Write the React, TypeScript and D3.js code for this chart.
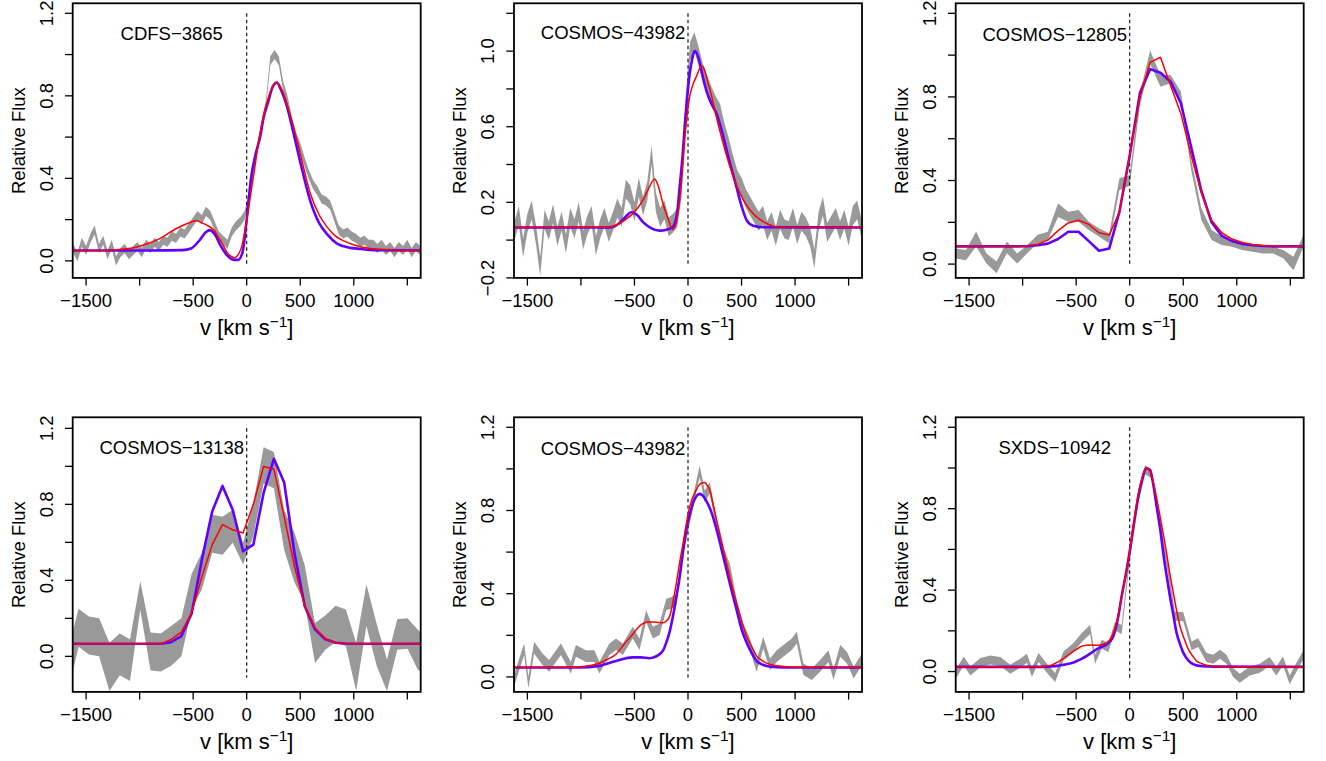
import React, { useEffect } from "react";
import * as d3 from "d3";

// ---------------- shared axis data ----------------
const X_DOMAIN: [number, number] = [-1625, 1625];
const X_TICKS = [-1500, -1000, -500, 0, 500, 1000, 1500];
const X_LABELED = [-1500, -500, 0, 500, 1000];
const Y_TICKS_A = [0, 0.2, 0.4, 0.6, 0.8, 1.0, 1.2];
const Y_LABELED_A = [0, 0.4, 0.8, 1.2];
const Y_TICKS_B = [-0.2, 0, 0.2, 0.4, 0.6, 0.8, 1.0, 1.2];
const Y_LABELED_B = [-0.2, 0.2, 0.6, 1.0];
const REF_TOP = 1.2;
const NAME_POS: [number, number] = [-700, 1.1];

// ---------------- Panel 1 : CDFS-3865 ----------------
const p1V = d3.range(-1620, 1621, 40);
const p1Flux = [0.06,0.02,0.09,0.05,0.11,0.15,0.06,0.10,0.03,0.08,
  0.00,0.04,0.06,0.03,0.05,0.07,0.04,0.08,0.06,0.09,
  0.07,0.10,0.09,0.12,0.11,0.14,0.13,0.16,0.19,0.22,
  0.20,0.24,0.22,0.17,0.12,0.10,0.08,0.14,0.17,0.19,
  0.22,0.30,0.43,0.55,0.66,0.76,0.97,1.00,0.97,0.85,
  0.78,0.68,0.60,0.55,0.48,0.42,0.37,0.34,0.30,0.29,
  0.27,0.21,0.15,0.13,0.14,0.12,0.11,0.09,0.10,0.08,
  0.08,0.06,0.08,0.05,0.07,0.04,0.07,0.05,0.08,0.04,
  0.07,0.05];
const p1Err = 0.022;
const p1BlueV = [-1625,-900,-600,-520,-440,-380,-344,-300,-240,-180,-120,-80,-40,0,40,80,125,160,200,240,281,320,370,437,500,594,680,750,844,950,1062,1200,1625];
const p1Blue = [0.05,0.05,0.052,0.06,0.10,0.14,0.149,0.13,0.07,0.025,0.005,0.005,0.04,0.20,0.40,0.51,0.60,0.70,0.77,0.84,0.864,0.83,0.76,0.62,0.48,0.29,0.18,0.13,0.084,0.065,0.058,0.052,0.05];
const p1RedV = [-1625,-1300,-1100,-969,-812,-656,-560,-469,-420,-344,-300,-266,-220,-187,-140,-109,-80,-47,0,60,125,190,250,281,320,370,437,500,594,680,750,830,906,1062,1200,1375,1625];
const p1Red = [0.05,0.052,0.06,0.076,0.108,0.157,0.18,0.194,0.185,0.165,0.145,0.116,0.075,0.044,0.02,0.015,0.03,0.068,0.197,0.40,0.618,0.77,0.852,0.864,0.84,0.77,0.65,0.52,0.327,0.22,0.165,0.12,0.097,0.068,0.057,0.052,0.05];

// ---------------- Panel 2 : COSMOS-43982 ----------------
const p2V = d3.range(-1620, 1621, 40);
const p2Flux = [0.05,0.13,-0.04,0.09,0.16,0.03,-0.14,0.11,0.05,0.14,
  0.02,0.10,-0.02,0.12,0.06,0.15,0.00,0.08,0.13,-0.03,
  0.06,0.12,0.04,0.10,0.17,0.12,0.27,0.24,0.15,0.28,
  0.18,0.26,0.45,0.20,0.12,0.16,0.07,0.09,0.12,0.28,
  0.72,1.00,1.05,0.97,0.88,0.82,0.76,0.71,0.67,0.57,
  0.49,0.40,0.32,0.28,0.22,0.18,0.14,0.10,0.13,0.05,
  0.10,0.02,0.11,0.06,0.05,0.12,0.03,0.10,0.07,0.02,
  -0.10,0.10,0.18,0.04,0.08,0.12,0.05,0.11,0.02,0.13,
  0.16,0.06];
const p2Err = 0.05;
const p2BlueV = [-1625,-760,-700,-640,-580,-531,-480,-420,-350,-266,-200,-141,-100,-78,-50,-31,0,16,40,62,85,109,140,172,220,266,310,359,400,453,500,547,609,700,1625];
const p2Blue = [0.067,0.067,0.07,0.09,0.125,0.147,0.135,0.095,0.065,0.05,0.055,0.07,0.15,0.28,0.45,0.6,0.80,0.88,0.96,1.0,0.985,0.94,0.86,0.79,0.72,0.67,0.59,0.48,0.39,0.28,0.18,0.106,0.076,0.068,0.067];
const p2RedV = [-1625,-760,-703,-641,-580,-516,-470,-422,-370,-312,-280,-234,-190,-141,-110,-78,-50,-31,0,16,50,78,110,131,160,188,230,266,320,391,440,484,540,609,670,734,828,900,1625];
const p2Red = [0.067,0.068,0.072,0.088,0.11,0.14,0.17,0.21,0.27,0.323,0.29,0.194,0.12,0.056,0.09,0.21,0.38,0.53,0.70,0.76,0.83,0.865,0.91,0.923,0.89,0.83,0.74,0.65,0.53,0.39,0.31,0.25,0.19,0.14,0.11,0.088,0.07,0.067,0.067];

// ---------------- Panel 3 : COSMOS-12805 ----------------
const p3V = [-1625,-1529,-1434,-1338,-1243,-1147,-1051,-956,-860,-765,-669,-574,-478,-382,-287,-191,-96,0,96,191,287,382,478,574,669,765,860,956,1051,1147,1243,1338,1434,1529,1625];
const p3Flux = [0.051,0.043,0.12,0.027,-0.016,0.08,0.027,0.072,0.12,0.135,0.258,0.227,0.231,0.183,0.152,0.123,0.383,0.40,0.79,0.99,0.877,0.885,0.805,0.474,0.239,0.139,0.112,0.099,0.083,0.075,0.067,0.067,0.048,0.003,0.112];
const p3Err = [0.024,0.024,0.036,0.024,0.028,0.028,0.024,0.02,0.02,0.02,0.032,0.024,0.028,0.02,0.02,0.024,0.028,0.025,0.03,0.032,0.028,0.02,0.02,0.024,0.028,0.024,0.02,0.016,0.016,0.016,0.016,0.016,0.02,0.032,0.028];
const p3Blue = [0.085,0.085,0.085,0.085,0.085,0.085,0.085,0.086,0.09,0.098,0.12,0.155,0.155,0.11,0.064,0.075,0.25,0.52,0.82,0.933,0.916,0.873,0.77,0.56,0.35,0.20,0.135,0.11,0.096,0.09,0.087,0.085,0.085,0.085,0.085];
const p3Red = [0.086,0.086,0.086,0.086,0.086,0.086,0.086,0.086,0.095,0.115,0.16,0.197,0.21,0.19,0.15,0.139,0.25,0.52,0.80,0.965,0.99,0.855,0.72,0.52,0.34,0.21,0.15,0.12,0.103,0.094,0.089,0.087,0.086,0.086,0.086];

// ---------------- Panel 4 : COSMOS-13138 ----------------
const p4V = [-1666,-1570,-1474,-1378,-1282,-1186,-1090,-994,-898,-802,-706,-610,-514,-418,-322,-226,-130,-34,62,158,254,350,446,542,638,734,830,926,1022,1118,1214,1310,1406,1502,1598,1694];
const p4Flux = [-0.07,0.15,0.11,0.10,-0.055,0.01,-0.02,0.32,0.025,0.02,0.055,0.10,0.34,0.45,0.645,0.635,0.685,0.54,0.72,1.005,0.98,0.665,0.52,0.38,0.07,0.125,0.17,0.15,-0.055,0.27,0.06,-0.10,0.115,0.12,0.035,0.0];
const p4Err = [0.11,0.10,0.10,0.10,0.127,0.11,0.11,0.075,0.10,0.10,0.105,0.10,0.095,0.095,0.10,0.10,0.087,0.057,0.088,0.095,0.096,0.105,0.13,0.10,0.105,0.09,0.096,0.096,0.127,0.11,0.11,0.083,0.08,0.08,0.105,0.10];
const p4Blue = [0.066,0.066,0.066,0.066,0.066,0.066,0.066,0.066,0.066,0.066,0.075,0.107,0.226,0.51,0.763,0.897,0.77,0.553,0.588,0.86,1.04,0.915,0.544,0.264,0.142,0.09,0.072,0.067,0.066,0.066,0.066,0.066,0.066,0.066,0.066,0.066];
const p4Red = [0.066,0.066,0.066,0.066,0.066,0.066,0.066,0.066,0.066,0.066,0.089,0.128,0.23,0.42,0.588,0.693,0.666,0.649,0.80,0.999,0.985,0.736,0.474,0.264,0.15,0.093,0.072,0.067,0.066,0.066,0.066,0.066,0.066,0.066,0.066,0.066];

// ---------------- Panel 5 : COSMOS-43982 ----------------
const p5V = [-1625,-1531,-1490,-1437,-1359,-1297,-1187,-1094,-1047,-953,-875,-828,-734,-672,-609,-516,-453,-391,-328,-266,-203,-156,-109,-47,16,62,109,156,203,266,328,391,453,516,578,641,703,766,828,891,969,1016,1078,1156,1234,1312,1359,1422,1484,1547,1625];
const p5Flux = [-0.019,0.133,-0.027,0.141,0.085,0.053,0.133,0.045,0.125,0.10,0.10,0.045,0.133,0.157,0.133,0.213,0.157,0.292,0.213,0.229,0.348,0.356,0.372,0.612,0.764,0.876,0.988,0.868,0.908,0.74,0.596,0.516,0.348,0.229,0.157,0.053,0.165,0.061,0.10,0.125,0.157,0.189,0.037,0.013,0.053,0.10,0.013,0.125,0.093,0.021,0.085];
const p5Err = 0.028;
const p5BlueV = [-1625,-1016,-828,-672,-516,-440,-359,-300,-266,-230,-203,-170,-141,-110,-78,-47,-16,16,47,80,109,140,172,220,266,310,359,400,453,500,547,600,641,690,734,828,1000,1625];
const p5Blue = [0.045,0.045,0.053,0.077,0.094,0.094,0.09,0.098,0.109,0.13,0.165,0.22,0.29,0.38,0.48,0.60,0.71,0.78,0.836,0.87,0.88,0.87,0.845,0.79,0.71,0.62,0.516,0.43,0.324,0.23,0.165,0.11,0.077,0.06,0.053,0.047,0.045,0.045];
const p5RedV = [-1625,-1100,-984,-900,-828,-750,-672,-600,-516,-470,-422,-375,-328,-280,-234,-200,-172,-140,-109,-78,-47,16,78,120,156,180,203,230,266,310,359,400,453,500,547,600,641,690,734,800,891,1000,1625];
const p5Red = [0.045,0.046,0.05,0.056,0.066,0.085,0.109,0.155,0.205,0.235,0.256,0.264,0.264,0.262,0.26,0.27,0.29,0.36,0.45,0.55,0.64,0.82,0.90,0.93,0.935,0.92,0.90,0.84,0.756,0.66,0.548,0.46,0.356,0.27,0.197,0.14,0.10,0.08,0.066,0.056,0.05,0.046,0.045];

// ---------------- Panel 6 : SXDS-10942 ----------------
const p6V = [-1625,-1550,-1488,-1394,-1301,-1208,-1115,-1022,-960,-913,-851,-773,-696,-618,-525,-447,-370,-323,-261,-199,-137,-75,3,81,143,205,267,345,422,500,578,640,717,780,842,904,966,1028,1121,1214,1307,1370,1432,1494,1556,1625];
const p6Flux = [-0.013,0.052,0.003,0.044,0.057,0.049,0.011,0.041,0.065,-0.005,0.069,0.016,-0.029,0.077,0.118,0.167,0.207,0.06,0.134,0.118,0.224,0.207,0.575,0.852,0.991,0.971,0.754,0.542,0.273,0.269,0.126,0.142,0.069,0.06,0.085,0.06,-0.005,-0.033,0.003,0.016,0.049,0.003,0.052,-0.041,0.02,0.085];
const p6Err = 0.022;
const p6BlueV = [-1625,-835,-680,-600,-525,-460,-400,-350,-307,-260,-214,-180,-152,-110,-75,-35,3,40,81,120,152,189,220,252,285,314,345,376,407,438,470,500,547,593,650,800,1625];
const p6Blue = [0.023,0.023,0.028,0.035,0.044,0.06,0.077,0.095,0.11,0.122,0.134,0.15,0.175,0.26,0.37,0.48,0.60,0.73,0.86,0.95,0.999,0.99,0.92,0.81,0.70,0.58,0.47,0.37,0.28,0.19,0.135,0.093,0.055,0.036,0.028,0.024,0.023];
const p6RedV = [-1625,-900,-835,-742,-680,-618,-555,-494,-450,-400,-350,-307,-260,-214,-180,-152,-110,-75,-35,3,40,81,120,152,189,225,267,305,345,375,407,438,469,510,547,590,624,670,717,800,900,1625];
const p6Red = [0.023,0.023,0.024,0.03,0.045,0.064,0.088,0.11,0.124,0.129,0.13,0.129,0.132,0.142,0.16,0.19,0.27,0.37,0.48,0.60,0.74,0.877,0.96,1.0,0.99,0.92,0.81,0.70,0.58,0.48,0.387,0.30,0.224,0.16,0.11,0.075,0.052,0.04,0.031,0.026,0.024,0.023];

const NAMES = ["CDFS\u22123865", "COSMOS\u221243982", "COSMOS\u221212805", "COSMOS\u221213138", "COSMOS\u221243982", "SXDS\u221210942"];

// ---------------- layout / style ----------------
const W = 1326, H = 761;
const COL_LEFT = [72.7, 514, 955.7];
const ROW_TOP = [3.3, 417.3];
const BOX_W = 348;
const BOX_H = 274.6;
const FONT = '"Liberation Sans", Arial, Helvetica, sans-serif';
const BLUE = "#6100FF";
const RED = "#FF0000";
const GRAY = "#999999";

type PanelCfg = {
  name: string;
  v: number[]; f: number[]; err: number | number[];
  blueV: number[]; blue: number[];
  redV: number[]; red: number[];
  smooth: boolean;
  yDomain: [number, number];
  yTicks: number[]; yLabeled: number[];
  refLo: number;
};

const PANELS: PanelCfg[] = [
  { name: NAMES[0], v: p1V, f: p1Flux, err: p1Err, blueV: p1BlueV, blue: p1Blue, redV: p1RedV, red: p1Red, smooth: true, yDomain: [-0.0825, 1.2485], yTicks: Y_TICKS_A, yLabeled: Y_LABELED_A, refLo: -0.021 },
  { name: NAMES[1], v: p2V, f: p2Flux, err: p2Err, blueV: p2BlueV, blue: p2Blue, redV: p2RedV, red: p2Red, smooth: true, yDomain: [-0.2, 1.253], yTicks: Y_TICKS_B, yLabeled: Y_LABELED_B, refLo: -0.133 },
  { name: NAMES[2], v: p3V, f: p3Flux, err: p3Err, blueV: p3V, blue: p3Blue, redV: p3V, red: p3Red, smooth: false, yDomain: [-0.066, 1.248], yTicks: Y_TICKS_A, yLabeled: Y_LABELED_A, refLo: -0.005 },
  { name: NAMES[3], v: p4V, f: p4Flux, err: p4Err, blueV: p4V, blue: p4Blue, redV: p4V, red: p4Red, smooth: false, yDomain: [-0.187, 1.258], yTicks: Y_TICKS_A, yLabeled: Y_LABELED_A, refLo: -0.112 },
  { name: NAMES[4], v: p5V, f: p5Flux, err: p5Err, blueV: p5BlueV, blue: p5Blue, redV: p5RedV, red: p5Red, smooth: true, yDomain: [-0.072, 1.248], yTicks: Y_TICKS_A, yLabeled: Y_LABELED_A, refLo: -0.003 },
  { name: NAMES[5], v: p6V, f: p6Flux, err: p6Err, blueV: p6BlueV, blue: p6Blue, redV: p6RedV, red: p6Red, smooth: true, yDomain: [-0.1, 1.249], yTicks: Y_TICKS_A, yLabeled: Y_LABELED_A, refLo: -0.03 },
];

const fmtX = d3.format("d");
const fmtY = d3.format(".1f");

function Panel({ p, left, top, id }: { p: PanelCfg; left: number; top: number; id: number }) {
  const x = d3.scaleLinear().domain(X_DOMAIN).range([left, left + BOX_W]);
  const y = d3.scaleLinear().domain(p.yDomain).range([top + BOX_H, top]);
  const e = (i: number) => (Array.isArray(p.err) ? p.err[i] : p.err);
  const band = p.v.map((v, i) => ({ v, lo: p.f[i] - e(i), hi: p.f[i] + e(i) }));
  const area = d3.area<{ v: number; lo: number; hi: number }>()
    .x((d) => x(d.v)).y0((d) => y(d.lo)).y1((d) => y(d.hi));
  const line = d3.line<[number, number]>()
    .x((d) => x(d[0])).y((d) => y(d[1]))
    .curve(p.smooth ? d3.curveMonotoneX : d3.curveLinear);
  const bluePts = p.blueV.map((v, i) => [v, p.blue[i]] as [number, number]);
  const redPts = p.redV.map((v, i) => [v, p.red[i]] as [number, number]);
  const bottom = top + BOX_H;
  const clip = `clip-${id}`;
  return (
    <g>
      <defs>
        <clipPath id={clip}>
          <rect x={left} y={top} width={BOX_W} height={BOX_H} />
        </clipPath>
      </defs>
      <g clipPath={`url(#${clip})`}>
        <path d={area(band) || ""} fill={GRAY} stroke="none" />
        <line x1={x(0)} x2={x(0)} y1={y(REF_TOP)} y2={y(p.refLo)} stroke="#000" strokeWidth={1.1} strokeDasharray="3.5,3" />
        <path d={line(bluePts) || ""} fill="none" stroke={BLUE} strokeWidth={2.6} strokeLinejoin="round" />
        <path d={line(redPts) || ""} fill="none" stroke={RED} strokeWidth={1.5} strokeLinejoin="round" />
      </g>
      <text x={x(NAME_POS[0])} y={y(NAME_POS[1])} dy="0.35em" textAnchor="middle" fontSize={18.5}>{p.name}</text>
      <rect x={left} y={top} width={BOX_W} height={BOX_H} fill="none" stroke="#000" strokeWidth={1.8} />
      {X_TICKS.map((t) => (
        <line key={"xt" + t} x1={x(t)} x2={x(t)} y1={bottom} y2={bottom + 7.7} stroke="#000" strokeWidth={1.3} />
      ))}
      {X_LABELED.map((t) => (
        <text key={"xl" + t} x={x(t)} y={bottom + 23} dy="0.35em" textAnchor="middle" fontSize={18.5}>{fmtX(t)}</text>
      ))}
      {p.yTicks.map((t) => (
        <line key={"yt" + t} x1={left} x2={left - 7.7} y1={y(t)} y2={y(t)} stroke="#000" strokeWidth={1.3} />
      ))}
      {p.yLabeled.map((t) => (
        <text key={"yl" + t} transform={`translate(${left - 26},${y(t)}) rotate(-90)`} dy="0.35em" textAnchor="middle" fontSize={18.5}>{fmtY(t)}</text>
      ))}
      <text transform={`translate(${left - 54.4},${top + BOX_H / 2}) rotate(-90)`} dy="0.35em" textAnchor="middle" fontSize={18.5}>Relative Flux</text>
      <text x={left + BOX_W / 2} y={bottom + 49} dy="0.35em" textAnchor="middle" fontSize={22}>
        v [km s<tspan dy={-8} fontSize={15.4}>{"\u22121"}</tspan><tspan dy={8}>]</tspan>
      </text>
    </g>
  );
}

export default function App() {
  useEffect(() => {
    document.body.style.margin = "0";
  }, []);
  return (
    <svg width={W} height={H} fontFamily={FONT} style={{ display: "block", position: "absolute", left: 0, top: 0, background: "#fff" }}>
      {PANELS.map((p, i) => (
        <Panel key={i} p={p} id={i} left={COL_LEFT[i % 3]} top={ROW_TOP[Math.floor(i / 3)]} />
      ))}
    </svg>
  );
}
